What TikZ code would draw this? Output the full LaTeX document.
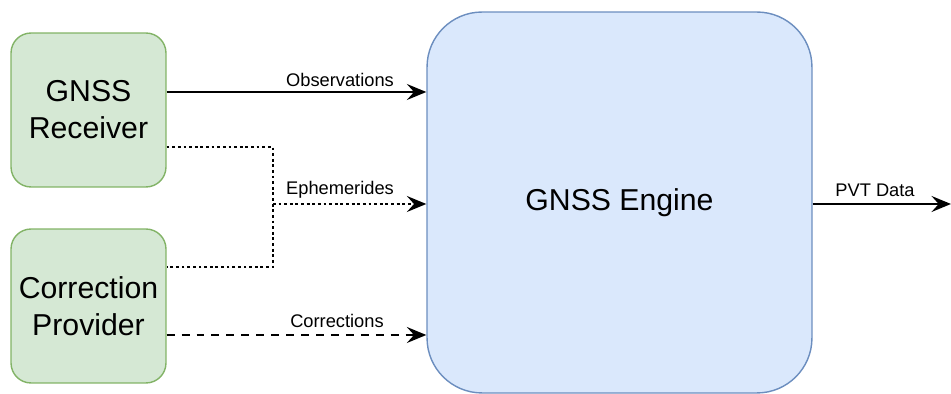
\documentclass[tikz,border=0pt]{standalone}
\usepackage{fontspec}
\setmainfont{Liberation Sans}
\usetikzlibrary{
    arrows.meta,
    positioning
}
\definecolor{greenfill}{HTML}{D5E8D4}
\definecolor{greenline}{HTML}{82B366}
\definecolor{bluefill}{HTML}{DAE8FC}
\definecolor{blueline}{HTML}{6C8EBF}

\begin{document}
\begin{tikzpicture}[x=0.02cm,y=-0.02cm,thick,
    source/.style={draw=greenline,fill=greenfill,rounded corners=0.4cm,
        minimum width=3.1cm,minimum height=3.08cm,align=center,
        font=\fontsize{17.2}{21}\selectfont},
    engine/.style={draw=blueline,fill=bluefill,rounded corners=1.1cm,
        minimum width=7.7cm,minimum height=7.62cm,
        font=\fontsize{17.2}{21}\selectfont},
    flow/.style={-{Stealth[length=11pt,width=9pt,inset=4pt]},line width=1.7pt},
    dots/.style={line width=1.7pt,dash pattern=on 1.6pt off 1.6pt},
    lbl/.style={font=\fontsize{10.4}{12}\selectfont,inner sep=1pt}
]
%\draw [help lines](0,0) grid (951,394);
\useasboundingbox (0,0) rectangle (951,394);
\node [source] (rcv) at (88.5,110) {GNSS\\Receiver};
\node [source] (prov) at (88.5,306) {Correction\\Provider};
\node [engine] (eng) at (619.5,202.5) {GNSS Engine};
\coordinate (out) at (951,204);
\coordinate (j1) at (273,147);
\coordinate (j2) at (273,267);
\coordinate (j) at (273,204);
% observations
\draw [flow] (rcv.east |- 0,92) -- (eng.west |- 0,92);
\node [lbl] (obs) at (340,80) {Observations};
% ephemerides
\draw [dots] (rcv.east |- j1) -- (j1) -- (j2) -- (prov.east |- j2);
\draw [flow,dots] (j) -- (eng.west |- j);
\node [lbl] (eph) at (340,190) {Ephemerides};
% corrections
\draw [flow,dash pattern=on 4.5pt off 4pt] (prov.east |- 0,335) -- (eng.west |- 0,335);
\node [lbl] (cor) at (337,321) {Corrections};
% output
\draw [flow] (eng.east |- out) -- (out);
\node [lbl] (pvt) at (875,190) {PVT Data};
\end{tikzpicture}
\end{document}
